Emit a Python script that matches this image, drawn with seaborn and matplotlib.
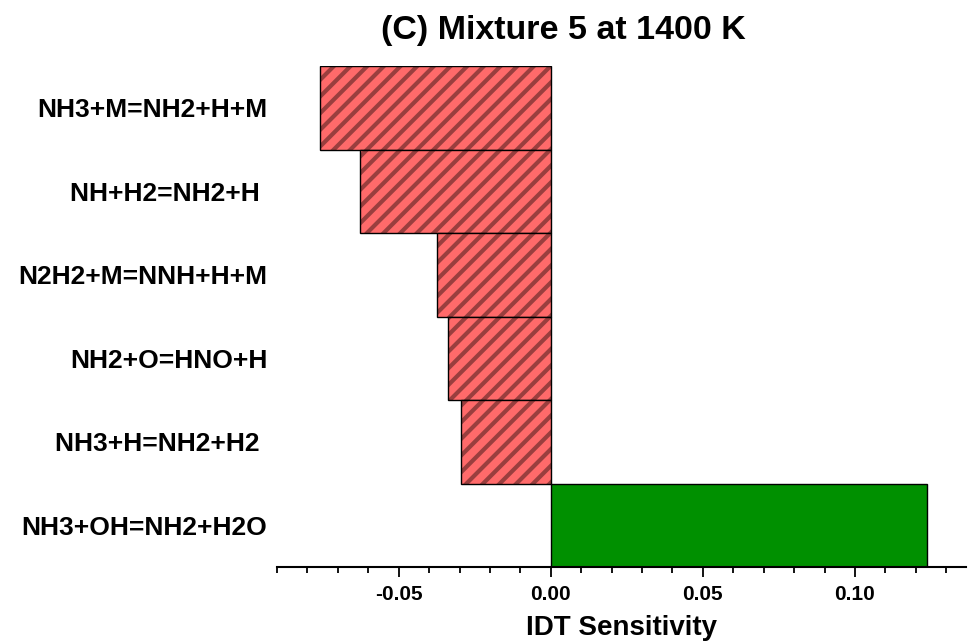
import matplotlib
matplotlib.use("Agg")
import matplotlib.pyplot as plt
import seaborn as sns
import pandas as pd
from matplotlib.colors import to_rgba
from matplotlib.ticker import MultipleLocator, FormatStrFormatter

reactions = ["NH3+M=NH2+H+M", "NH+H2=NH2+H ", "N2H2+M=NNH+H+M",
             "NH2+O=HNO+H", "NH3+H=NH2+H2 ", "NH3+OH=NH2+H2O"]
sensitivity = [-0.0757, -0.0628, -0.0375, -0.0337, -0.0296, 0.1238]
title = "(C) Mixture 5 at 1400 K"
xlabel = "IDT Sensitivity"

RED = "#FF6A6A"
HATCH = "#9A3E3E"
GREEN = "#009000"

sns.set_theme(style="white")
plt.rcParams["font.family"] = ["Liberation Sans", "DejaVu Sans"]
plt.rcParams["font.weight"] = "bold"
plt.rcParams["hatch.linewidth"] = 3.0

df = pd.DataFrame({"reaction": reactions, "sens": sensitivity})
colors = [GREEN if v > 0 else RED for v in sensitivity]

fig = plt.figure(figsize=(9.68, 6.42), dpi=100)
ax = fig.add_axes([277/968, 1-567/642, (966-277)/968, (567-66)/642])

sns.barplot(data=df, x="sens", y="reaction", hue="reaction", palette=colors,
            orient="h", width=1.0, legend=False, saturation=1.0,
            edgecolor="black", linewidth=1.0, ax=ax)

for p, v in zip(ax.patches, sensitivity):
    p.set_edgecolor("black")
    if v < 0:
        p.set_hatch("//")
        p._hatch_color = to_rgba(HATCH)

ax.set_xlim(-0.09, 0.1365)
ax.set_ylim(len(reactions) - 0.5, -0.5)
ax.xaxis.set_major_locator(MultipleLocator(0.05))
ax.xaxis.set_minor_locator(MultipleLocator(0.01))
ax.xaxis.set_major_formatter(FormatStrFormatter("%.2f"))

for s in ["top", "right", "left"]:
    ax.spines[s].set_visible(False)
ax.spines["bottom"].set_color("black")
ax.spines["bottom"].set_linewidth(1.5)

ax.tick_params(axis="x", which="major", bottom=True, length=7, width=1.3,
               color="black", direction="out", labelsize=15, pad=6,
               labelcolor="black")
ax.tick_params(axis="x", which="minor", bottom=True, length=4, width=1.3,
               color="black", direction="out")
ax.tick_params(axis="y", length=0, labelsize=19, pad=7, labelcolor="black")
for t in ax.get_xticklabels() + ax.get_yticklabels():
    t.set_fontweight("bold")

ax.set_ylabel("")
ax.set_xlabel("")

fig.text(621/968, 1-635/642, xlabel, ha="center", va="baseline",
         fontsize=20, fontweight="bold", color="black")
fig.text(563/968, 1-30/642, title, ha="center", va="center",
         fontsize=24.5, fontweight="bold", color="black")

fig.savefig("out.png", dpi=100)
